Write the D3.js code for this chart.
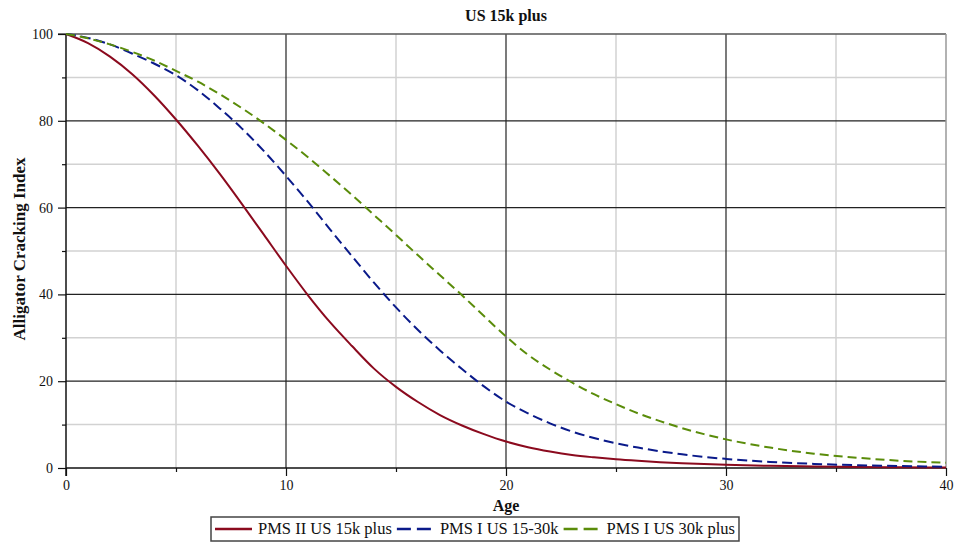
<!DOCTYPE html>
<html>
<head>
<meta charset="utf-8">
<script src="https://cdn.jsdelivr.net/npm/d3@7"></script>
<style>
  body { margin: 0; background: #fff; }
  svg text { font-family: "Liberation Serif", "Times New Roman", serif; fill: #111; }
</style>
</head>
<body>
<svg id="chart" width="961" height="548"></svg>
<script>
// data
var ages = [0,1,2,3,4,5,6,7,8,9,10,11,12,13,14,15,16,17,18,19,20,21,22,23,24,25,26,27,28,29,30,32,34,36,38,40];
var pms2us15k = [100,97.9,94.8,90.8,85.9,80.3,74.2,67.7,60.8,53.7,46.6,39.8,33.6,28.1,22.9,18.7,15.2,12.2,9.8,7.8,6.1,4.8,3.8,3.0,2.45,2.0,1.65,1.35,1.1,0.9,0.75,0.5,0.35,0.25,0.15,0.1];
var pms1us1530k = [100,99.1,97.6,95.5,93.2,90.5,87,82.8,78.2,73,67.3,61.3,55,48.8,42.7,37,31.8,27.1,22.8,18.8,15.3,12.6,10.3,8.4,6.9,5.7,4.7,3.85,3.15,2.55,2.1,1.4,0.95,0.65,0.45,0.3];
var pms1us30k = [100,99,97.6,95.9,93.9,91.5,89,86.1,82.9,79.4,75.6,71.6,67.3,62.9,58.3,53.7,49,44.4,39.8,35,30.3,26.1,22.7,19.7,17.0,14.7,12.6,10.8,9.2,7.8,6.6,4.7,3.3,2.35,1.65,1.2];
var seriesNames = ["PMS II US 15k plus", "PMS I US 15-30k", "PMS I US 30k plus"];
var seriesColors = ["#8b0a1e", "#0a1a8a", "#5a8c0a"];
var seriesDash = [null, "10,5", "9,5"];
var xMajor = [0,10,20,30,40], xMinor = [5,15,25,35];
var yMajor = [0,20,40,60,80,100], yMinor = [10,30,50,70,90];

var series = [pms2us15k, pms1us1530k, pms1us30k];

var svg = d3.select("#chart");
var pLeft = 66, pRight = 946, pTop = 34, pBottom = 468;

var x = d3.scaleLinear().domain([0, 40]).range([pLeft, pRight]);
var y = d3.scaleLinear().domain([0, 100]).range([pBottom, pTop]);

var g = svg.append("g");

// minor grid
g.selectAll(".vminor").data(xMinor).enter().append("line")
  .attr("x1", d => x(d)).attr("x2", d => x(d)).attr("y1", pTop).attr("y2", pBottom)
  .attr("stroke", "#d2d2d2").attr("stroke-width", 1.5);
g.selectAll(".hminor").data(yMinor).enter().append("line")
  .attr("x1", pLeft).attr("x2", pRight).attr("y1", d => y(d)).attr("y2", d => y(d))
  .attr("stroke", "#d2d2d2").attr("stroke-width", 1.5);

// major grid
g.selectAll(".vmajor").data(xMajor.slice(1, -1)).enter().append("line")
  .attr("x1", d => x(d)).attr("x2", d => x(d)).attr("y1", pTop).attr("y2", pBottom)
  .attr("stroke", "#222").attr("stroke-width", 1.2);
g.selectAll(".hmajor").data(yMajor.slice(1, -1)).enter().append("line")
  .attr("x1", pLeft).attr("x2", pRight).attr("y1", d => y(d)).attr("y2", d => y(d))
  .attr("stroke", "#222").attr("stroke-width", 1.2);

// top and right border
g.append("line").attr("x1", pLeft - 8).attr("x2", pRight).attr("y1", y(100)).attr("y2", y(100))
  .attr("stroke", "#555").attr("stroke-width", 1.5);
g.append("line").attr("x1", pRight).attr("x2", pRight).attr("y1", pTop).attr("y2", pBottom)
  .attr("stroke", "#999").attr("stroke-width", 1.5);

// axes
var yAxis = d3.axisLeft(y).tickValues(yMajor).tickSize(8).tickFormat(d3.format("d"));
var yAxisMinor = d3.axisLeft(y).tickValues(yMinor).tickSize(4).tickFormat("");
var xAxis = d3.axisBottom(x).tickValues(xMajor).tickSize(8).tickFormat(d3.format("d"));
var xAxisMinor = d3.axisBottom(x).tickValues(xMinor).tickSize(4).tickFormat("");

function styleAxis(sel) {
  sel.select(".domain").remove();
  sel.selectAll("line").attr("stroke", "#111").attr("stroke-width", 1.2);
  sel.selectAll("text").attr("font-size", 14).attr("font-family", "Liberation Serif, serif").attr("fill", "#24304a");
}
svg.append("g").attr("transform", "translate(" + pLeft + ",0)").call(yAxis).call(styleAxis)
  .selectAll("text").attr("x", -13);
svg.append("g").attr("transform", "translate(" + pLeft + ",0)").call(yAxisMinor).call(styleAxis);
svg.append("g").attr("transform", "translate(0," + pBottom + ")").call(xAxis).call(styleAxis)
  .selectAll("text").attr("y", 12);
svg.append("g").attr("transform", "translate(0," + pBottom + ")").call(xAxisMinor).call(styleAxis);

svg.append("line").attr("x1", pLeft).attr("x2", pLeft).attr("y1", pTop).attr("y2", pBottom + 8)
  .attr("stroke", "#111").attr("stroke-width", 1.5);
svg.append("line").attr("x1", pLeft).attr("x2", pRight).attr("y1", pBottom).attr("y2", pBottom)
  .attr("stroke", "#111").attr("stroke-width", 1.5);

// lines
var line = d3.line()
  .x(d => x(d[0])).y(d => y(d[1]))
  .curve(d3.curveMonotoneX);

series.forEach(function(s, i) {
  svg.append("path")
    .datum(ages.map((a, j) => [a, s[j]]))
    .attr("fill", "none")
    .attr("stroke", seriesColors[i])
    .attr("stroke-width", 2)
    .attr("stroke-dasharray", seriesDash[i])
    .attr("d", line);
});

// title and axis labels
svg.append("text").attr("x", (pLeft + pRight) / 2).attr("y", 21).attr("text-anchor", "middle")
  .attr("font-size", 16).attr("font-weight", "bold").text("US 15k plus");
svg.append("text").attr("x", (pLeft + pRight) / 2).attr("y", 511).attr("text-anchor", "middle")
  .attr("font-size", 16).attr("font-weight", "bold").text("Age");
svg.append("text").attr("transform", "translate(25," + ((pTop + pBottom) / 2 - 2) + ") rotate(-90)")
  .attr("text-anchor", "middle").attr("font-size", 17).attr("font-weight", "bold")
  .text("Alligator Cracking Index");

// legend
var legend = svg.append("g");
var lx = 215;
seriesNames.forEach(function(name, i) {
  var it = legend.append("g").attr("transform", "translate(" + lx + ",0)");
  it.append("line").attr("x1", 0).attr("x2", 37).attr("y1", 529).attr("y2", 529)
    .attr("stroke", seriesColors[i]).attr("stroke-width", 2.5)
    .attr("stroke-dasharray", seriesDash[i] ? "14,6" : null);
  var t = it.append("text").attr("x", 43).attr("y", 534).attr("font-size", 16.5).text(name);
  lx += 43 + t.node().getComputedTextLength() + 5;
});
legend.insert("rect", ":first-child").attr("x", 211).attr("y", 517).attr("width", lx - 211 - 1).attr("height", 24)
  .attr("fill", "#fff").attr("stroke", "#444").attr("stroke-width", 1.5);
</script>
</body>
</html>
